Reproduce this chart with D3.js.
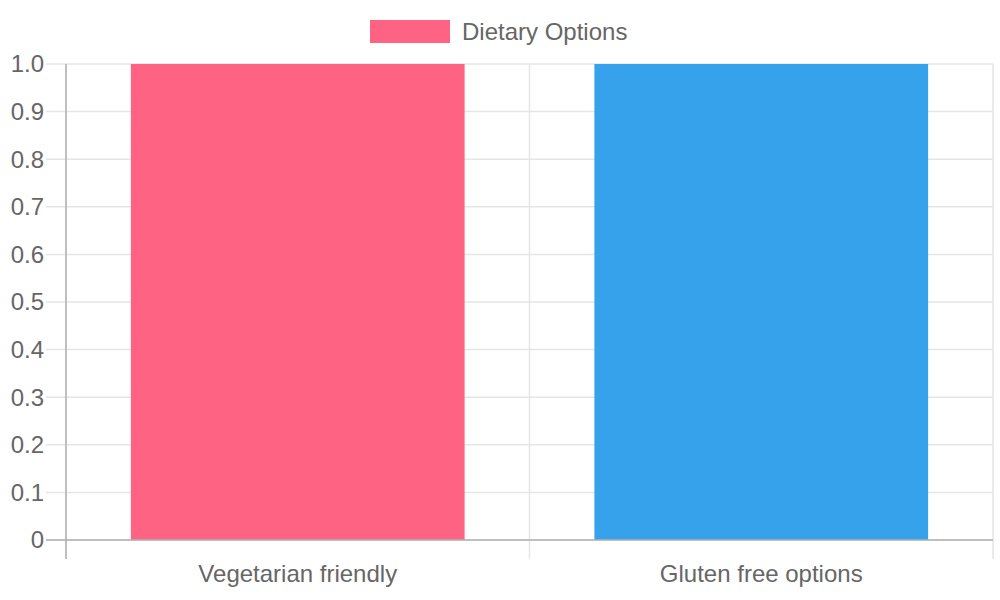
<!DOCTYPE html>
<html><head><meta charset="utf-8">
<script src="https://cdn.jsdelivr.net/npm/d3@7"></script>
<style>body{margin:0;background:#fff}svg{display:block}text{font-family:"Liberation Sans",Arial,Helvetica,sans-serif}</style>
</head><body>
<svg id="c" width="1000" height="600"></svg>
<script>
const categories = ["Vegetarian friendly", "Gluten free options"];
const values = [1, 1];
const barColors = ["#ff6384", "#36a2eb"];
const yTicks = [0, 0.1, 0.2, 0.3, 0.4, 0.5, 0.6, 0.7, 0.8, 0.9, 1.0];
const seriesName = "Dietary Options";

const svg = d3.select("#c");
const m = {left: 66, right: 993, top: 64, bottom: 540};
const x = d3.scaleBand().domain(categories).range([m.left, m.right]).paddingInner(0).paddingOuter(0);
const y = d3.scaleLinear().domain([0, 1]).range([m.bottom, m.top]);
const fs = 24, tc = "#666";

// horizontal grid
svg.append("g").selectAll("line").data(yTicks).join("line")
  .attr("x1", m.left - 20).attr("x2", m.right)
  .attr("y1", d => y(d)).attr("y2", d => y(d))
  .attr("stroke", "#e5e5e5").attr("stroke-width", 1.5);
// vertical grid
const vx = [m.left, ...categories.slice(1).map(c => x(c)), m.right];
svg.append("g").selectAll("line").data(vx).join("line")
  .attr("x1", d => d).attr("x2", d => d)
  .attr("y1", m.top).attr("y2", m.bottom + 19)
  .attr("stroke", "#e5e5e5").attr("stroke-width", 1.5);

// bars
const bw = x.bandwidth() * 0.72;
svg.append("g").selectAll("rect").data(categories).join("rect")
  .attr("x", d => x(d) + (x.bandwidth() - bw) / 2)
  .attr("width", bw)
  .attr("y", (d, i) => y(values[i]))
  .attr("height", (d, i) => y(0) - y(values[i]))
  .attr("fill", (d, i) => barColors[i]);

// axes lines
svg.append("line").attr("x1", m.left).attr("x2", m.left).attr("y1", m.top).attr("y2", m.bottom + 19)
  .attr("stroke", "#b0b0b0").attr("stroke-width", 1.5);
svg.append("line").attr("x1", m.left - 20).attr("x2", m.right).attr("y1", m.bottom).attr("y2", m.bottom)
  .attr("stroke", "#b0b0b0").attr("stroke-width", 1.5);

// y tick labels
svg.append("g").selectAll("text").data(yTicks).join("text")
  .attr("x", 44).attr("y", d => y(d)).attr("dy", "0.35em")
  .attr("text-anchor", "end").attr("font-size", fs).attr("fill", tc)
  .text(d => d === 0 ? "0" : d3.format(".1f")(d));

// x labels
svg.append("g").selectAll("text").data(categories).join("text")
  .attr("x", d => x(d) + x.bandwidth() / 2).attr("y", 574).attr("dy", "0.35em")
  .attr("text-anchor", "middle").attr("font-size", fs).attr("fill", tc)
  .text(d => d);

// legend
const lg = svg.append("g");
lg.append("rect").attr("x", 370).attr("y", 20).attr("width", 80).attr("height", 23).attr("fill", barColors[0]);
lg.append("text").attr("x", 462).attr("y", 32).attr("dy", "0.35em").attr("font-size", fs).attr("fill", tc).text(seriesName);
</script>
</body></html>
